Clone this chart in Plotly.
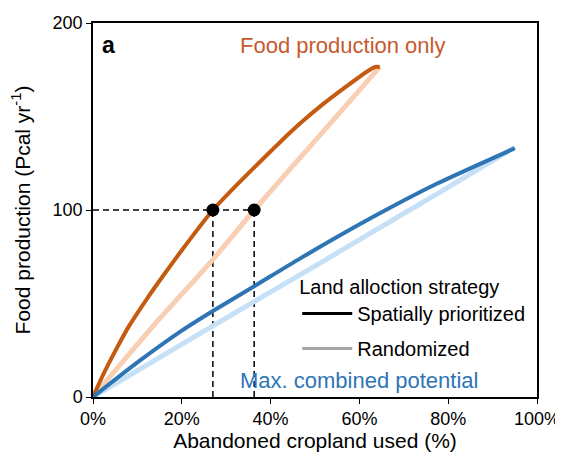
import plotly.graph_objects as go

# Food production only (spatially prioritized / randomized)
food_prior_x = [0, 2, 5, 8, 12, 16, 20, 24, 27, 32, 36, 42, 47, 52, 57, 62, 63.5, 64.6]
food_prior_y = [0, 10.5, 24.5, 37.5, 52, 65.5, 78.5, 91, 100, 112.5, 122, 136, 147, 157, 166, 174.5, 176.5, 176.5]
food_rand_x = [0, 14.3, 27.0, 36.3, 50.0, 64.6]
food_rand_y = [0, 40, 73.5, 100, 137, 176.5]

# Max. combined potential
comb_prior_x = [0, 10, 20, 27, 36.5, 46.6, 62.4, 77.4, 95]
comb_prior_y = [0, 18.5, 35.5, 46, 59.5, 74, 95.4, 114, 133]
comb_rand_x = [0, 27.0, 36.3, 50, 62.4, 77.4, 95]
comb_rand_y = [0, 38, 51, 70, 87.5, 108.5, 133.5]

# Reference points at 100 Pcal
ref_x = [27.0, 36.3]
ref_y = [100, 100]

x_ticks = [0, 20, 40, 60, 80, 100]
x_labels = ["0%", "20%", "40%", "60%", "80%", "100%"]
y_ticks = [0, 100, 200]

ORANGE = "#C55A11"
ORANGE_L = "#F8CFB2"
BLUE = "#2E75B6"
BLUE_L = "#C6E0F7"
FONT = "Liberation Sans, Arial, sans-serif"
DASH = "6px,4px"

fig = go.Figure()

# dashed guides
fig.add_trace(go.Scatter(x=[0, ref_x[1]], y=[ref_y[0], ref_y[1]], mode="lines",
                         line=dict(color="black", width=1.5, dash=DASH), showlegend=False))
for xv, yv in zip(ref_x, ref_y):
    fig.add_trace(go.Scatter(x=[xv, xv], y=[0, yv], mode="lines",
                             line=dict(color="black", width=1.5, dash=DASH), showlegend=False))

fig.add_trace(go.Scatter(x=food_rand_x, y=food_rand_y, mode="lines",
                         line=dict(color=ORANGE_L, width=5, shape="spline", smoothing=0.6), showlegend=False))
fig.add_trace(go.Scatter(x=comb_rand_x, y=comb_rand_y, mode="lines",
                         line=dict(color=BLUE_L, width=5, shape="spline", smoothing=0.6), showlegend=False))
fig.add_trace(go.Scatter(x=food_prior_x, y=food_prior_y, mode="lines",
                         line=dict(color=ORANGE, width=4, shape="spline", smoothing=0.6), showlegend=False))
fig.add_trace(go.Scatter(x=comb_prior_x, y=comb_prior_y, mode="lines",
                         line=dict(color=BLUE, width=4, shape="spline", smoothing=0.6), showlegend=False))

fig.add_trace(go.Scatter(x=ref_x, y=ref_y, mode="markers",
                         marker=dict(color="black", size=13), showlegend=False))

# legend dummies
fig.add_trace(go.Scatter(x=[None], y=[None], mode="lines", name="Spatially prioritized",
                         legendgroup="a", line=dict(color="black", width=3)))
fig.add_trace(go.Scatter(x=[None], y=[None], mode="lines", name="Randomized",
                         legendgroup="b", line=dict(color="#A6A6A6", width=3)))

fig.update_layout(
    width=555, height=449,
    margin=dict(l=85, r=26, t=15, b=60),
    plot_bgcolor="white", paper_bgcolor="white",
    font=dict(family=FONT, size=18, color="black"),
    legend=dict(title=dict(text="Land alloction strategy", font=dict(size=20)),
                x=0.46, y=0.345, xanchor="left", yanchor="top",
                bgcolor="rgba(0,0,0,0)", font=dict(size=20),
                tracegroupgap=6, itemwidth=50),
    annotations=[
        dict(text="<b>a</b>", x=0.015, y=0.941, xref="paper", yref="paper",
             showarrow=False, font=dict(size=23, color="black"), xanchor="left", yanchor="middle"),
        dict(text="Food production only", x=0.561, y=0.941, xref="paper", yref="paper",
             showarrow=False, font=dict(size=22, color="#C65A2E"), xanchor="center", yanchor="middle"),
        dict(text="Max. combined potential", x=0.6, y=0.045, xref="paper", yref="paper",
             showarrow=False, font=dict(size=22, color=BLUE), xanchor="center", yanchor="middle"),
    ],
)
fig.update_xaxes(range=[0, 100], tickvals=x_ticks, ticktext=x_labels, automargin=False,
                 showline=True, linecolor="black", linewidth=1.5, mirror=True,
                 ticks="outside", ticklen=5, tickcolor="black", showgrid=False, zeroline=False,
                 title=dict(text="Abandoned cropland used (%)", font=dict(size=21), standoff=4),
                 tickfont=dict(size=18))
fig.update_yaxes(range=[0, 200], tickvals=y_ticks, automargin=False,
                 showline=True, linecolor="black", linewidth=1.5, mirror=True,
                 ticks="outside", ticklen=5, tickcolor="black", showgrid=False, zeroline=False,
                 title=dict(text="Food production (Pcal yr<sup>-1</sup>)", font=dict(size=21), standoff=28),
                 tickfont=dict(size=18))

fig.write_html("out.html")
